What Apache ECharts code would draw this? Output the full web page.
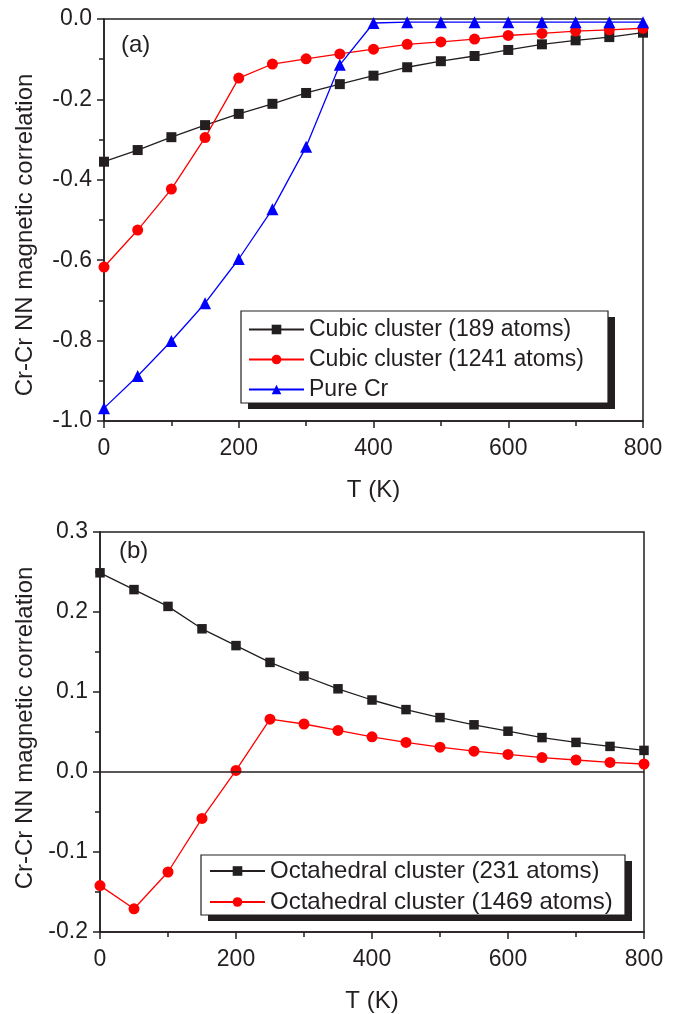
<!DOCTYPE html>
<html>
<head>
<meta charset="utf-8">
<script src="https://cdn.jsdelivr.net/npm/echarts@6/dist/echarts.min.js"></script>
<style>
html,body{margin:0;padding:0;background:#fff;}
#chart{width:679px;height:1014px;}
</style>
</head>
<body>
<div id="chart"></div>
<script>
// ---- data ----
const temps = [0,50,100,150,200,250,300,350,400,450,500,550,600,650,700,750,800];
const cubic189  = [-0.355,-0.326,-0.294,-0.264,-0.236,-0.211,-0.184,-0.162,-0.141,-0.120,-0.105,-0.092,-0.077,-0.063,-0.053,-0.045,-0.034];
const cubic1241 = [-0.617,-0.525,-0.423,-0.295,-0.147,-0.112,-0.099,-0.087,-0.075,-0.063,-0.057,-0.050,-0.041,-0.036,-0.030,-0.027,-0.023];
const pureCr    = [-0.968,-0.888,-0.801,-0.707,-0.597,-0.473,-0.318,-0.114,-0.010,-0.008,-0.008,-0.008,-0.008,-0.008,-0.008,-0.008,-0.008];
const octa231   = [0.249,0.228,0.207,0.179,0.158,0.137,0.120,0.104,0.090,0.078,0.068,0.059,0.051,0.043,0.037,0.032,0.027];
const octa1469  = [-0.142,-0.171,-0.125,-0.058,0.002,0.066,0.060,0.052,0.044,0.037,0.031,0.026,0.022,0.018,0.015,0.012,0.010];
const namesA = ['Cubic cluster (189 atoms)','Cubic cluster (1241 atoms)','Pure Cr'];
const namesB = ['Octahedral cluster (231 atoms)','Octahedral cluster (1469 atoms)'];
const yTitle = 'Cr-Cr NN magnetic correlation';
const xTitle = 'T (K)';

const INK = '#231f20';
const FONT = 'Liberation Sans, Arial, Helvetica, sans-serif';
const pairs = arr => temps.map((t,i)=>[t,arr[i]]);

function xAxisCfg(gi){
  return {
    type:'value', gridIndex:gi, min:0, max:800, interval:200,
    name:xTitle, nameLocation:'middle', nameGap:57,
    nameTextStyle:{fontSize:24,color:INK,fontFamily:FONT},
    axisLine:{show:true,onZero:false,lineStyle:{color:INK,width:1.5}},
    axisTick:{show:true,length:7,lineStyle:{color:INK,width:1.5}},
    minorTick:{show:true,splitNumber:2,length:5,lineStyle:{color:INK,width:1.5}},
    splitLine:{show:false},
    axisLabel:{fontSize:23,color:INK,fontFamily:FONT,margin:16}
  };
}
function yAxisCfg(gi,min,max,interval){
  return {
    type:'value', gridIndex:gi, min:min, max:max, interval:interval,
    axisLine:{show:true,onZero:false,lineStyle:{color:INK,width:1.5}},
    axisTick:{show:true,length:7,lineStyle:{color:INK,width:1.5}},
    minorTick:{show:true,splitNumber:2,length:5,lineStyle:{color:INK,width:1.5}},
    splitLine:{show:false},
    axisLabel:{fontSize:23,color:INK,fontFamily:FONT,margin:12,
      formatter:v=>v.toFixed(1)}
  };
}
function lineSeries(name,gi,data,color,symbol,size,extra){
  return Object.assign({
    type:'line', name:name, xAxisIndex:gi, yAxisIndex:gi,
    data:pairs(data), symbol:symbol, symbolSize:size,
    showAllSymbol:true, animation:false, clip:true,
    lineStyle:{color:color,width:1.3},
    itemStyle:{color:color,borderWidth:0}
  }, extra||{});
}
const legendBase = {
  orient:'vertical', itemWidth:55, itemHeight:12, z:10,
  backgroundColor:'transparent', borderWidth:0,
  selectedMode:false
};
function legendFrame(x1,y1,x2,y2){
  return [
    {type:'rect',z:8,silent:true,shape:{x:x1+7,y:y1+6,width:x2-x1,height:y2-y1},style:{fill:INK}},
    {type:'rect',z:9,silent:true,shape:{x:x1,y:y1,width:x2-x1,height:y2-y1},style:{fill:'#fff',stroke:INK,lineWidth:1.2}}
  ];
}

const chart = echarts.init(document.getElementById('chart'),null,{renderer:'canvas'});
chart.setOption({
  backgroundColor:'#fff',
  animation:false,
  grid:[
    {left:104,top:19,width:539,height:402,show:true,borderColor:INK,borderWidth:1.5,backgroundColor:'transparent'},
    {left:100,top:532,width:544,height:404,show:true,borderColor:INK,borderWidth:1.5,backgroundColor:'transparent'}
  ],
  xAxis:[xAxisCfg(0),xAxisCfg(1)],
  yAxis:[yAxisCfg(0,-1,0,0.2),yAxisCfg(1,-0.2,0.3,0.1)],
  legend:[
    Object.assign({},legendBase,{data:namesA,left:241,top:311,itemGap:7,padding:[7,18,5,7],
      textStyle:{fontSize:23,color:INK,fontFamily:FONT,lineHeight:22}}),
    Object.assign({},legendBase,{data:namesB,left:201,top:855,itemGap:7,padding:[4,5,2,8],
      textStyle:{fontSize:24,color:INK,fontFamily:FONT,lineHeight:24}})
  ],
  graphic:[].concat(
    legendFrame(241,311,608,403),
    legendFrame(201,855,625,915),
    [
      {type:'text',left:121,top:33,style:{text:'(a)',fontSize:24,fill:INK,fontFamily:FONT}},
      {type:'text',left:119,top:539,style:{text:'(b)',fontSize:24,fill:INK,fontFamily:FONT}},
      {type:'text',x:25,y:235,rotation:Math.PI/2,
        style:{text:yTitle,fontSize:24,fill:INK,fontFamily:FONT,align:'center',verticalAlign:'middle'}},
      {type:'text',x:25,y:728,rotation:Math.PI/2,
        style:{text:yTitle,fontSize:24,fill:INK,fontFamily:FONT,align:'center',verticalAlign:'middle'}}
    ]
  ),
  series:[
    lineSeries(namesA[0],0,cubic189,INK,'rect',10),
    lineSeries(namesA[1],0,cubic1241,'#ff0000','circle',11),
    lineSeries(namesA[2],0,pureCr,'#0000ff','triangle',12),
    lineSeries(namesB[0],1,octa231,INK,'rect',9.5,{
      markLine:{silent:true,symbol:['none','none'],label:{show:false},
        lineStyle:{color:INK,width:1.5,type:'solid'},data:[{yAxis:0}],animation:false}
    }),
    lineSeries(namesB[1],1,octa1469,'#ff0000','circle',11)
  ]
});
</script>
</body>
</html>
